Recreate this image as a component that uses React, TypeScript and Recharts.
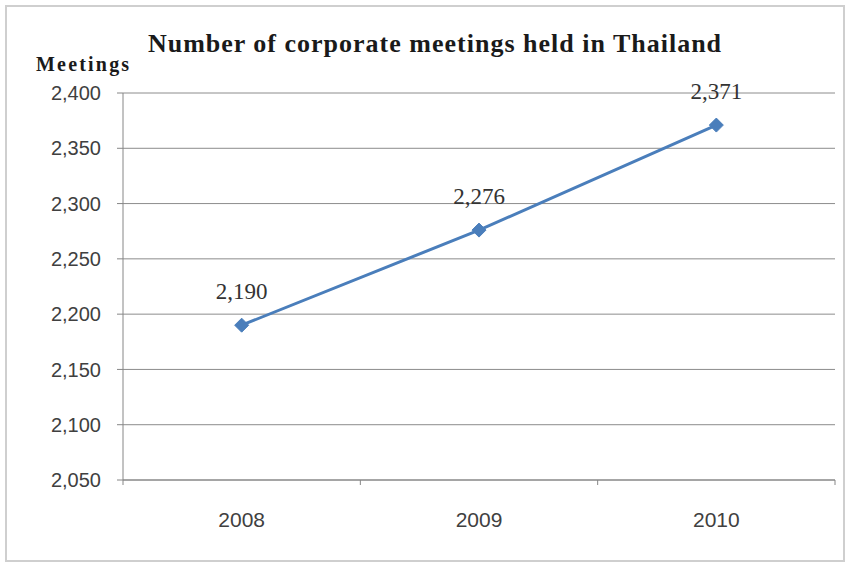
import { LineChart, Line, XAxis, YAxis, CartesianGrid, LabelList } from 'recharts';

const years = ['2008', '2009', '2010'];
const meetings = [2190, 2276, 2371];
const yTicks = [2050, 2100, 2150, 2200, 2250, 2300, 2350, 2400];

const data = years.map((year, i) => ({ year, meetings: meetings[i] }));

const W = 846;
const H = 563;
const PLOT_LEFT = 123;
const PLOT_RIGHT = 835;
const PLOT_TOP = 93;
const PLOT_BOTTOM = 480;
const HALF_BAND = (PLOT_RIGHT - PLOT_LEFT) / years.length / 2;

const fmt = (v: number) => v.toLocaleString('en-US');

const Diamond = (props: any) => {
  const { cx, cy } = props;
  if (cx == null || cy == null) return null;
  return (
    <path
      d={`M${cx},${cy - 7} L${cx + 7},${cy} L${cx},${cy + 7} L${cx - 7},${cy} Z`}
      fill="#4a7ebb"
      stroke="#4a7ebb"
    />
  );
};

// ticks sit between the categories, labels at the centre
const XTick = (props: any) => {
  const { x, y, payload, index } = props;
  return (
    <g>
      {index === 0 && <line x1={x - HALF_BAND} y1={y} x2={x - HALF_BAND} y2={y + 5} stroke="#868686" />}
      <line x1={x + HALF_BAND} y1={y} x2={x + HALF_BAND} y2={y + 5} stroke="#868686" />
      <text x={x} y={y + 47} textAnchor="middle" fontSize={21} fill="#404040" fontFamily="Liberation Sans">
        {payload.value}
      </text>
    </g>
  );
};

export default function App() {
  return (
    <div style={{ position: 'absolute', left: 0, top: 0, width: W, height: H, background: '#fff' }}>
      <div
        style={{
          position: 'absolute',
          left: 5,
          top: 5,
          width: 836,
          height: 553,
          border: '2px solid #cfcfcf',
        }}
      />
      <div
        style={{
          position: 'absolute',
          left: 0,
          width: W,
          top: 29,
          textAlign: 'center',
          fontFamily: '"Liberation Serif", serif',
          fontWeight: 'bold',
          fontSize: 26,
          letterSpacing: 1,
          color: '#1a1a1a',
          paddingLeft: 24,
          boxSizing: 'border-box',
        }}
      >
        Number of corporate meetings held in Thailand
      </div>
      <div
        style={{
          position: 'absolute',
          left: 36,
          top: 53,
          fontFamily: '"Liberation Serif", serif',
          fontWeight: 'bold',
          fontSize: 20,
          letterSpacing: 2.2,
          color: '#1a1a1a',
        }}
      >
        Meetings
      </div>
      <LineChart
        width={W}
        height={H}
        data={data}
        margin={{ top: PLOT_TOP, right: W - PLOT_RIGHT, bottom: 0, left: 0 }}
        style={{ position: 'absolute', left: 0, top: 0 }}
      >
        <CartesianGrid vertical={false} stroke="#8c8c8c" />
        <XAxis
          dataKey="year"
          stroke="#868686"
          tickLine={false}
          tickSize={0}
          tickMargin={0}
          tick={<XTick />}
          padding={{ left: HALF_BAND, right: HALF_BAND }}
          height={H - PLOT_BOTTOM}
        />
        <YAxis
          width={PLOT_LEFT}
          domain={[2050, 2400]}
          ticks={yTicks}
          stroke="#868686"
          tickSize={6}
          tickMargin={16}
          tickFormatter={fmt}
          tick={{ fontSize: 20, fill: '#404040', fontFamily: 'Liberation Sans' }}
        />
        <Line
          type="linear"
          dataKey="meetings"
          stroke="#4a7ebb"
          strokeWidth={3}
          dot={<Diamond />}
          activeDot={false}
          isAnimationActive={false}
        >
          <LabelList
            dataKey="meetings"
            position="top"
            offset={26}
            formatter={(v: any) => fmt(Number(v))}
            style={{ fontSize: 23, fill: '#333', fontFamily: '"Liberation Serif", serif' }}
          />
        </Line>
      </LineChart>
    </div>
  );
}
